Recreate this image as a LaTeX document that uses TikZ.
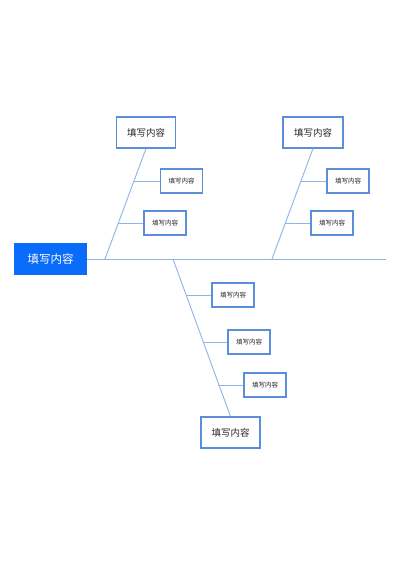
\documentclass[tikz,border=0pt]{standalone}
\usepackage{fontspec}
\setmainfont{Noto Sans CJK SC}
\begin{document}
\begin{tikzpicture}[x=1pt,y=-1pt,
  bigbox/.style={draw=boxc,line width=1.1pt,fill=white,minimum width=59pt,minimum height=31pt,inner sep=0pt,font=\fontsize{9.5}{11}\selectfont,text=black!85},
  smallbox/.style={draw=boxc,line width=1.1pt,fill=white,minimum width=42pt,minimum height=24pt,inner sep=0pt,font=\fontsize{6.5}{8}\selectfont,text=black!85},
  mainbox/.style={fill=mainc,minimum width=73pt,minimum height=32pt,inner sep=0pt,font=\fontsize{11.5}{13}\selectfont,text=white},
  bone/.style={draw=linec,line width=0.9pt}]
\definecolor{boxc}{HTML}{5B8ED8}
\definecolor{linec}{HTML}{8CB4E6}
\definecolor{mainc}{HTML}{0A6CFA}
\useasboundingbox (0,0) rectangle (400,566);
\fill[white] (0,0) rectangle (400,566);
% spine
\node[mainbox] (main) at (50.5,259) {填写内容};
\coordinate (spineEnd) at (386,259);
\coordinate (j1) at (105,259);
\coordinate (j2) at (272,259);
\coordinate (j3) at (173,259);
\draw[bone] (main.east) -- (spineEnd);
% top-left
\node[bigbox] (tl) at (146,132.5) {填写内容};
\node[smallbox] (tl1) at (181.5,181) {填写内容};
\node[smallbox] (tl2) at (165,223) {填写内容};
\draw[bone] (tl.south) -- (j1);
\coordinate (tla) at (133.8,181);
\coordinate (tlb) at (118.3,223);
\draw[bone] (tla) -- (tl1.west);
\draw[bone] (tlb) -- (tl2.west);
% top-right
\node[bigbox, minimum width=60pt] (tr) at (313,132.5) {填写内容};
\node[smallbox] (tr1) at (348,181) {填写内容};
\node[smallbox] (tr2) at (332,223) {填写内容};
\draw[bone] (tr.south) -- (j2);
\coordinate (tra) at (300.8,181);
\coordinate (trb) at (285.3,223);
\draw[bone] (tra) -- (tr1.west);
\draw[bone] (trb) -- (tr2.west);
% bottom
\node[bigbox] (b) at (230.5,432.5) {填写内容};
\node[smallbox] (b1) at (233,295) {填写内容};
\node[smallbox] (b2) at (249,342) {填写内容};
\node[smallbox] (b3) at (265,385) {填写内容};
\draw[bone] (j3) -- (b.north);
\coordinate (ba) at (186.3,295);
\coordinate (bb) at (203,342);
\coordinate (bc) at (218,385);
\draw[bone] (ba) -- (b1.west);
\draw[bone] (bb) -- (b2.west);
\draw[bone] (bc) -- (b3.west);
\end{tikzpicture}
\end{document}
